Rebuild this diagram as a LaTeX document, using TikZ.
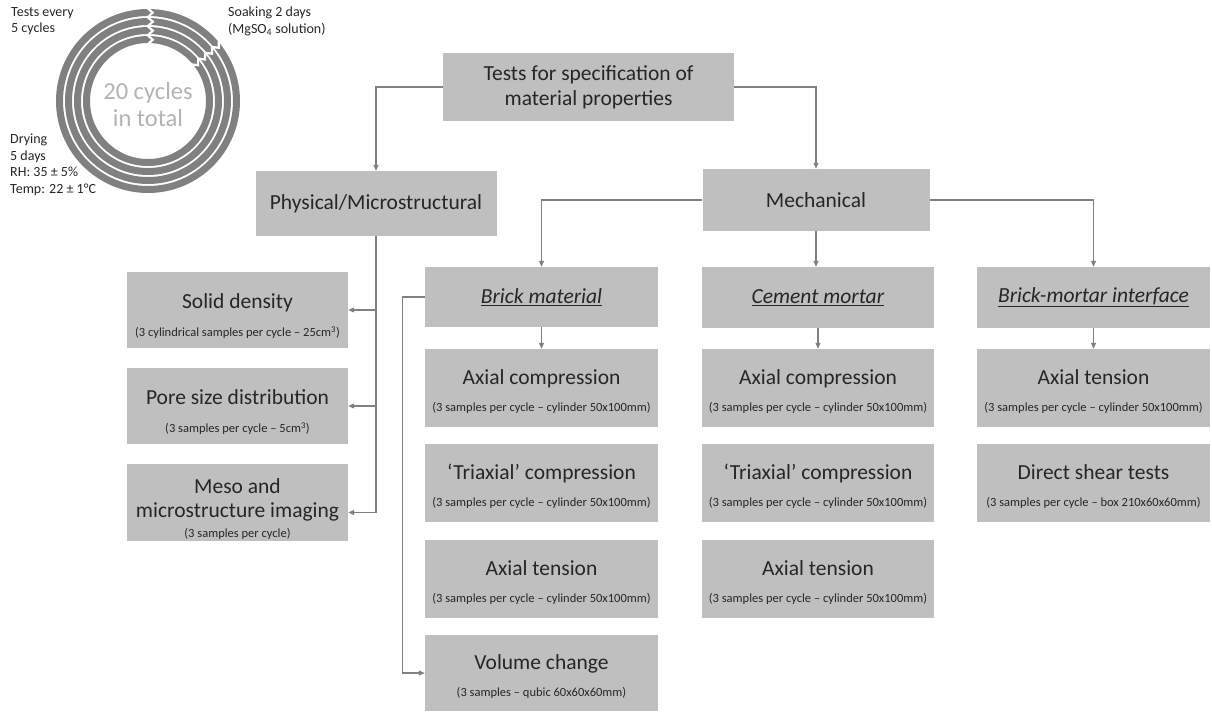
\documentclass[tikz,border=0pt]{standalone}
\usepackage{fontspec}
\setmainfont{Carlito}
\usetikzlibrary{arrows.meta}
\definecolor{boxgray}{HTML}{BFBFBF}
\definecolor{linegray}{HTML}{808080}
\definecolor{ringgray}{HTML}{808080}
\definecolor{txt}{HTML}{262626}
\definecolor{softtxt}{HTML}{B3B3B3}
\newcommand\subtxt[1]{{\fontsize{12.5}{13}\selectfont #1}}
\newcommand\lowa{\rule{0pt}{22pt}}
\newcommand\lowb{\rule{0pt}{27pt}}
\begin{document}
\begin{tikzpicture}[x=1pt,y=-1pt,
  box/.style={rectangle, fill=boxgray, inner sep=0pt, align=center, text=txt,
    font=\fontsize{21.5}{25}\selectfont},
  arr/.style={draw=linegray, line width=1.1pt, -{Triangle[length=6pt,width=5pt]}},
  corner/.style={align=left, anchor=north west, inner sep=0pt, text=txt,
    font=\fontsize{14}{16.5}\selectfont},
  ring/.style={draw=ringgray, line width=7pt},
  sep/.style={draw=white, line width=2.2pt, line join=miter}
]
\useasboundingbox (0,0) rectangle (1212,713);

% ---- cycle diagram ----
\foreach \r in {88.5,79.5,70.5,61.5}
  \draw[ring] (148,101) circle[radius=\r pt];
\begin{scope}[shift={(148,101)}]
  \foreach \a in {90,40}{
    \draw[sep] (\a:95pt) -- (\a:92.5pt) -- (\a-3:88.5pt) -- (\a:84pt)
      -- (\a:83.5pt) -- (\a-3.5:79.5pt) -- (\a:75pt)
      -- (\a:74.5pt) -- (\a-4:70.5pt) -- (\a:66pt)
      -- (\a:65.5pt) -- (\a-4.5:61.5pt) -- (\a:57pt) -- (\a:55pt);
  }
\end{scope}
\node[align=center, text=softtxt, font=\fontsize{24.5}{27}\selectfont] (total) at (148,105) {20 cycles\\in total};

\node[corner] (tests) at (11,7) {Tests every\\5 cycles};
\node[corner] (soak) at (228,7) {Soaking 2 days\\(MgSO\textsubscript{4} solution)};
\node[corner] (dry) at (10,134) {Drying\\5 days\\RH: 35 ± 5\%\\Temp: 22 ± 1°C};

% ---- tree ----
\node[box, minimum width=291pt, minimum height=68pt] (top) at (588.5,87) {Tests for specification of\\material properties};
\node[box, minimum width=241pt, minimum height=65pt] (phys) at (376,203.5) {Physical/Microstructural};
\node[box, minimum width=227pt, minimum height=62pt] (mech) at (816,200) {Mechanical};

\node[box, minimum width=221pt, minimum height=76pt] (solid) at (237.5,310) {\lowb Solid density\\[3pt]\subtxt{(3 cylindrical samples per cycle -- 25cm\textsuperscript{3})}};
\node[box, minimum width=221pt, minimum height=76pt] (pore) at (237.5,406) {\lowb Pore size distribution\\[3pt]\subtxt{(3 samples per cycle -- 5cm\textsuperscript{3})}};
\node[box, minimum width=221pt, minimum height=77pt] (meso) at (237.5,502.5) {\lowb Meso and\\[-1pt]microstructure imaging\\[-5pt]\subtxt{(3 samples per cycle)}};

\node[box, minimum width=233pt, minimum height=60pt] (brick) at (541.5,297) {\underline{\textit{Brick material}}};
\node[box, minimum width=233pt, minimum height=78pt] (bax) at (541.5,388) {\lowa Axial compression\\[2pt]\subtxt{(3 samples per cycle -- cylinder 50x100mm)}};
\node[box, minimum width=233pt, minimum height=78pt] (btri) at (541.5,483) {\lowa ‘Triaxial’ compression\\[2pt]\subtxt{(3 samples per cycle -- cylinder 50x100mm)}};
\node[box, minimum width=233pt, minimum height=78pt] (bten) at (541.5,579) {\lowa Axial tension\\[2pt]\subtxt{(3 samples per cycle -- cylinder 50x100mm)}};
\node[box, minimum width=233pt, minimum height=76pt] (bvol) at (541.5,673) {\lowa Volume change\\[2pt]\subtxt{(3 samples -- qubic 60x60x60mm)}};

\node[box, minimum width=232pt, minimum height=61pt] (cem) at (818,297.5) {\underline{\textit{Cement mortar}}};
\node[box, minimum width=232pt, minimum height=78pt] (cax) at (818,388) {\lowa Axial compression\\[2pt]\subtxt{(3 samples per cycle -- cylinder 50x100mm)}};
\node[box, minimum width=232pt, minimum height=78pt] (ctri) at (818,483) {\lowa ‘Triaxial’ compression\\[2pt]\subtxt{(3 samples per cycle -- cylinder 50x100mm)}};
\node[box, minimum width=232pt, minimum height=78pt] (cten) at (818,579) {\lowa Axial tension\\[2pt]\subtxt{(3 samples per cycle -- cylinder 50x100mm)}};

\node[box, minimum width=233pt, minimum height=61pt] (iface) at (1093.5,297.5) {\underline{\textit{Brick-mortar interface}}};
\node[box, minimum width=233pt, minimum height=78pt] (iten) at (1093.5,388) {\lowa Axial tension\\[2pt]\subtxt{(3 samples per cycle -- cylinder 50x100mm)}};
\node[box, minimum width=233pt, minimum height=78pt] (ishe) at (1093.5,483) {\lowa Direct shear tests\\[2pt]\subtxt{(3 samples per cycle -- box 210x60x60mm)}};

% connectors
\draw[arr] (top.west) -| (phys.north);
\draw[arr] (top.east) -| (mech.north);
\draw[arr] (mech.west) -| (brick.north);
\draw[arr] (mech.south) -- (mech.south |- cem.north);
\draw[arr] (mech.east) -| (iface.north);
\draw[arr] (brick.south) -- (bax.north);
\draw[arr] (cem.south) -- (cax.north);
\draw[arr] (iface.south) -- (iten.north);
\draw[arr] (brick.west) -- ++(-22,0) |- (bvol.west);
\draw[arr] (phys.south) |- ([yshift=-10pt]meso.east);
\draw[arr] (phys.south |- solid.east) -- (solid.east);
\draw[arr] (phys.south |- pore.east) -- (pore.east);
\end{tikzpicture}
\end{document}
